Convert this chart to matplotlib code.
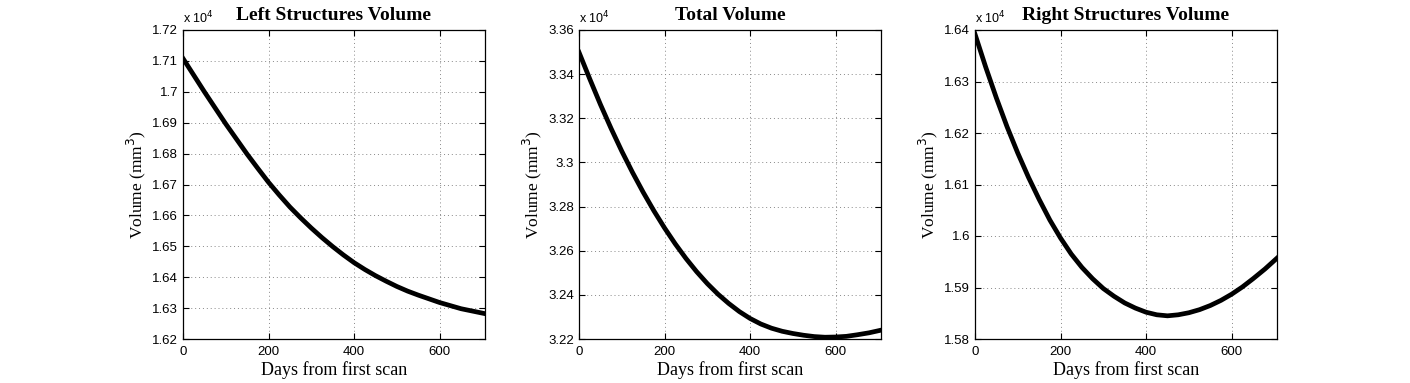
import numpy as np
import matplotlib
matplotlib.use('Agg')
import matplotlib.pyplot as plt

# volumes in units of 10^4 mm^3
days = [0, 25, 50, 75, 100, 125, 150, 175, 200, 225, 250, 275, 300, 325, 350,
        375, 400, 425, 450, 475, 500, 525, 550, 575, 600, 625, 650, 678, 706]

vol_left = [1.7108, 1.7054, 1.7000, 1.6948, 1.6896, 1.6847, 1.6798, 1.6752, 1.6707,
            1.6666, 1.6627, 1.6592, 1.6559, 1.6528, 1.6499, 1.6472, 1.6447, 1.6425,
            1.6405, 1.6387, 1.6370, 1.6355, 1.6342, 1.6330, 1.6318, 1.6308, 1.6298,
            1.6290, 1.6282]

vol_total = [3.3499, 3.3379, 3.3263, 3.3154, 3.3051, 3.2955, 3.2865, 3.2781, 3.2703,
             3.2631, 3.2565, 3.2505, 3.2451, 3.2403, 3.2361, 3.2324, 3.2293, 3.2268,
             3.2249, 3.2235, 3.2225, 3.2217, 3.2211, 3.2208, 3.2209, 3.2212, 3.2219,
             3.2228, 3.2240]

vol_right = [1.6392, 1.6328, 1.6268, 1.6212, 1.6161, 1.6114, 1.6071, 1.6031, 1.5996,
             1.5965, 1.5939, 1.5917, 1.5898, 1.5883, 1.5870, 1.5860, 1.5852, 1.5847,
             1.5845, 1.5847, 1.5851, 1.5857, 1.5865, 1.5875, 1.5887, 1.5901, 1.5917,
             1.5936, 1.5957]

titles = ['Left Structures Volume', 'Total Volume', 'Right Structures Volume']
ylims = [(1.62, 1.72), (3.22, 3.36), (1.58, 1.64)]
ysteps = [0.01, 0.02, 0.01]
xticks = [0, 200, 400, 600]

serif = 'Liberation Serif'
sans = 'Liberation Sans'

fig = plt.figure(figsize=(14.1, 3.83), dpi=100)
lefts = [183/1410, 579/1410, 975/1410]
w = 302/1410
b = 44/383
h = 309/383

series = [vol_left, vol_total, vol_right]
for k in range(3):
    ax = fig.add_axes([lefts[k], b, w, h])
    ax.plot(days, series[k], color='black', lw=3.4, solid_joinstyle='round')
    ax.set_xlim(0, 706)
    ax.set_ylim(*ylims[k])
    lo, hi = ylims[k]
    n = int(round((hi - lo) / ysteps[k]))
    yt = [lo + i*ysteps[k] for i in range(n+1)]
    ax.set_yticks(yt)
    ax.set_yticklabels(['%g' % round(v, 2) for v in yt], fontfamily=sans, fontsize=9.5)
    ax.set_xticks(xticks)
    ax.set_xticklabels([str(v) for v in xticks], fontfamily=sans, fontsize=9.5)
    ax.tick_params(axis='x', pad=5)
    ax.tick_params(direction='in', top=True, right=True, length=4, width=0.8)
    ax.grid(True, color='#888888', linestyle=(0, (1, 3)), linewidth=0.7)
    for s in ax.spines.values():
        s.set_linewidth(0.9)
    ax.set_title(titles[k], fontfamily=serif, fontweight='bold', fontsize=14, pad=7)
    ax.set_xlabel('Days from first scan', fontfamily=serif, fontsize=13, labelpad=2)
    ax.set_ylabel('Volume (mm$^3$)', fontfamily=serif, fontsize=12.5, labelpad=3)
    ax.text(0.0, 1.012, r'x 10$^4$', transform=ax.transAxes, fontfamily=sans,
            fontsize=9, ha='left', va='bottom')

fig.savefig('out.png', dpi=100)
